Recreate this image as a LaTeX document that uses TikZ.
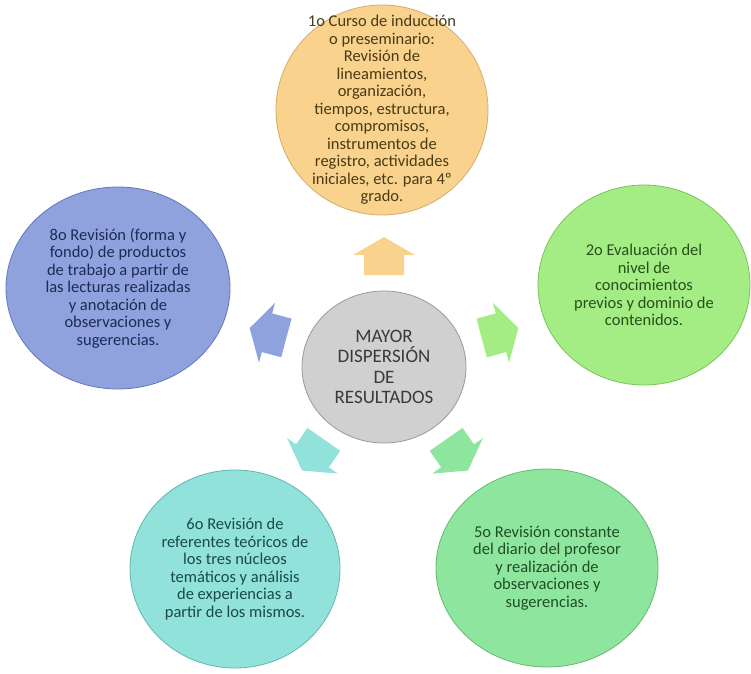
\documentclass[tikz,border=0pt]{standalone}
\usepackage{fontspec}
\setmainfont{Carlito}
\usetikzlibrary{shapes.geometric}
\definecolor{orF}{HTML}{F9D28E}\definecolor{orD}{HTML}{D2AC6A}\definecolor{orT}{HTML}{4A3A12}
\definecolor{grF}{HTML}{A4EC84}\definecolor{grD}{HTML}{7CC25C}\definecolor{grT}{HTML}{27501A}
\definecolor{mnF}{HTML}{8EE69E}\definecolor{mnD}{HTML}{66B870}\definecolor{mnT}{HTML}{1F4D26}
\definecolor{tlF}{HTML}{90E2DB}\definecolor{tlD}{HTML}{5FB8B0}\definecolor{tlT}{HTML}{1B4A46}
\definecolor{blF}{HTML}{8FA2DD}\definecolor{blD}{HTML}{6478B8}\definecolor{blT}{HTML}{1E2A55}
\definecolor{gyF}{HTML}{D0D0D0}\definecolor{gyD}{HTML}{9A9A9A}\definecolor{gyT}{HTML}{3A3A3A}
\tikzset{
  bub/.style={ellipse, line width=0.8pt, inner sep=0pt},
  btxt/.style={align=center, font=\fontsize{16.5}{17.5}\selectfont},
}
% block arrow: #1 position, #2 angle, #3 colour, #4 name
\newcommand\blockarr[4]{%
  \begin{scope}[shift={#1}, rotate=#2]
    \coordinate (#4) at (0,0);
    \fill[#3] (-19,-20) -- (1,-20) -- (1,-31) -- (19,0) -- (1,31) -- (1,20) -- (-19,20) -- cycle;
  \end{scope}}
\begin{document}
\begin{tikzpicture}[x=1pt,y=1pt]
\useasboundingbox (0,0) rectangle (751,673);
% outer bubbles
\node[bub, fill=orF, draw=orD, minimum width=212pt, minimum height=210pt] (n1) at (382,563) {};
\node[bub, fill=grF, draw=grD, minimum width=212pt, minimum height=200pt] (n2) at (644,388) {};
\node[bub, fill=mnF, draw=mnD, minimum width=222pt, minimum height=198pt] (n5) at (547,105) {};
\node[bub, fill=tlF, draw=tlD, minimum width=210pt, minimum height=198pt] (n6) at (235,104) {};
\node[bub, fill=blF, draw=blD, minimum width=224pt, minimum height=202pt] (n8) at (118,385) {};
% center
\node[bub, fill=gyF, draw=gyD, minimum width=164pt, minimum height=152pt] (c) at (384,306) {};
% texts
\node[btxt, text=orT] (t1) at (n1) {1o Curso de inducción\\o preseminario:\\Revisión de\\lineamientos,\\organización,\\tiempos, estructura,\\compromisos,\\instrumentos de\\registro, actividades\\iniciales, etc. para 4º\\grado.};
\node[btxt, text=grT] (t2) at (n2) {2o Evaluación del\\nivel de\\conocimientos\\previos y dominio de\\contenidos.};
\node[btxt, text=mnT] (t5) at (n5) {5o Revisión constante\\del diario del profesor\\y realización de\\observaciones y\\sugerencias.};
\node[btxt, text=tlT] (t6) at (n6) {6o Revisión de\\referentes teóricos de\\los tres núcleos\\temáticos y análisis\\de experiencias a\\partir de los mismos.};
\node[btxt, text=blT] (t8) at (n8) {8o Revisión (forma y\\fondo) de productos\\de trabajo a partir de\\las lecturas realizadas\\y anotación de\\observaciones y\\sugerencias.};
\node[align=center, text=gyT, font=\fontsize{19}{20.5}\selectfont] (tc) at (c) {MAYOR\\DISPERSIÓN\\DE\\RESULTADOS};
% arrows
\blockarr{(384,417)}{90}{orF}{a1}
\blockarr{(500,340)}{15}{grF}{a2}
\blockarr{(457,218)}{-55}{mnF}{a5}
\blockarr{(313,218)}{-125}{tlF}{a6}
\blockarr{(268,340)}{165}{blF}{a8}
\end{tikzpicture}
\end{document}
